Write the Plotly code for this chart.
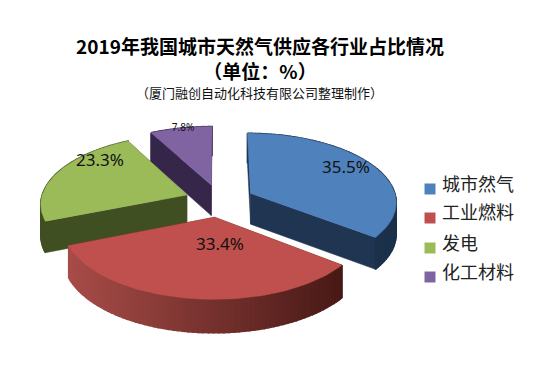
import math
import plotly.graph_objects as go

# ---- data ----
categories = ["城市然气", "工业燃料", "发电", "化工材料"]
shares = [35.5, 33.4, 23.3, 7.8]
title_lines = ["2019年我国城市天然气供应各行业占比情况", "（单位：%）"]
subtitle = "（厦门融创自动化科技有限公司整理制作）"

# ---- style ----
TOP = ["#4F81BD", "#C0504D", "#9BBB59", "#8064A2"]
FACE = ["#1F3552", "#4A1B19", "#404F22", "#35264A"]
WALL_L = [(31, 53, 82), (168, 76, 72), (64, 79, 34), (53, 38, 74)]
WALL_R = [(27, 48, 74), (72, 25, 22), (64, 79, 34), (53, 38, 74)]
LABEL_XY = [(346, 169), (220, 246), (100, 162), (183, 128)]
LABEL_SIZE = [17, 17, 17, 10]
LEG_MARK_Y = [189, 218, 248, 277]
LEG_TEXT_Y = [186, 214, 245, 274]
CX, CY, A, AS, P, DEPTH, EXPLODE = 219.5, 200.5, 146, 68.5, 0.115, 31, 0.24


def project(X, Y, down=False):
    k = 1 / (1 + P * Y)
    return CX + A * X * k, CY - AS * Y * k + (DEPTH * k ** 0.5 if down else 0)


def poly(fig, pts, color, width=0.5):
    fig.add_trace(go.Scatter(
        x=[p[0] for p in pts] + [pts[0][0]], y=[p[1] for p in pts] + [pts[0][1]],
        mode="lines", fill="toself", fillcolor=color, line=dict(color=color, width=width),
        showlegend=False, hoverinfo="skip"))


fig = go.Figure()

# slice geometry computed from the shares
slices = []
start = 0.0
for v in shares:
    sweep = v / sum(shares) * 2 * math.pi
    slices.append((start, start + sweep))
    start += sweep

for i in [3, 2, 0, 1]:  # painter's order
    a0, a1 = slices[i]
    mid = (a0 + a1) / 2
    ox, oy = EXPLODE * math.sin(mid), EXPLODE * math.cos(mid)
    n = max(int((a1 - a0) / 0.03), 6)
    arc = [(ox + math.sin(a0 + (a1 - a0) * j / n), oy + math.cos(a0 + (a1 - a0) * j / n)) for j in range(n + 1)]
    # radial faces
    for end in (a0, a1):
        rim = (ox + math.sin(end), oy + math.cos(end))
        poly(fig, [project(ox, oy), project(*rim), project(*rim, down=True), project(ox, oy, down=True)], FACE[i])
    # outer wall, shaded left to right
    xs = [project(*p)[0] for p in arc]
    lo, hi = min(xs), max(xs)
    for j in range(n):
        t = ((xs[j] + xs[j + 1]) / 2 - lo) / (hi - lo)
        c = tuple(round(WALL_L[i][m] + (WALL_R[i][m] - WALL_L[i][m]) * t) for m in range(3))
        poly(fig, [project(*arc[j]), project(*arc[j + 1]), project(*arc[j + 1], down=True), project(*arc[j], down=True)],
             "rgb(%d,%d,%d)" % c, width=1.5)
    # top
    poly(fig, [project(ox, oy)] + [project(*p) for p in arc], TOP[i])

# percentage labels
for v, (lx, ly), s in zip(shares, LABEL_XY, LABEL_SIZE):
    fig.add_trace(go.Scatter(x=[lx], y=[ly], mode="text", text=[f"{v}%"],
                             textfont=dict(family="Noto Sans", size=s, color="#111111"),
                             textposition="middle center", showlegend=False, hoverinfo="skip"))

# legend keys and texts (placed closely, as in the original)
for name, col, my, ty in zip(categories, TOP, LEG_MARK_Y, LEG_TEXT_Y):
    fig.add_trace(go.Scatter(x=[430], y=[my], mode="markers", name=name, showlegend=False, hoverinfo="name",
                             marker=dict(symbol="square", size=11, color=col)))
    fig.add_trace(go.Scatter(x=[442], y=[ty], mode="text", text=[name], textposition="middle right",
                             textfont=dict(family="Noto Sans CJK SC", size=18, color="#222222"),
                             showlegend=False, hoverinfo="skip"))

fig.update_layout(
    width=555, height=374, margin=dict(l=0, r=0, t=0, b=0),
    paper_bgcolor="white", plot_bgcolor="white", showlegend=False,
    xaxis=dict(range=[0, 555], visible=False, fixedrange=True),
    yaxis=dict(range=[374, 0], visible=False, fixedrange=True),
    title=dict(text=title_lines[0] + "<br>" + title_lines[1], x=260 / 555, xanchor="center",
               y=1 - 54 / 374, yanchor="top",
               font=dict(family="Noto Sans CJK SC", size=19, color="#000000", weight="bold")),
    annotations=[dict(text=subtitle, x=259, y=92, xref="x", yref="y", showarrow=False,
                      font=dict(family="Noto Sans CJK SC", size=13, color="#111111"))],
)
fig.write_html("out.html", config={"displayModeBar": False},
               post_script="document.body.style.margin='0';document.documentElement.style.overflow='hidden';")
